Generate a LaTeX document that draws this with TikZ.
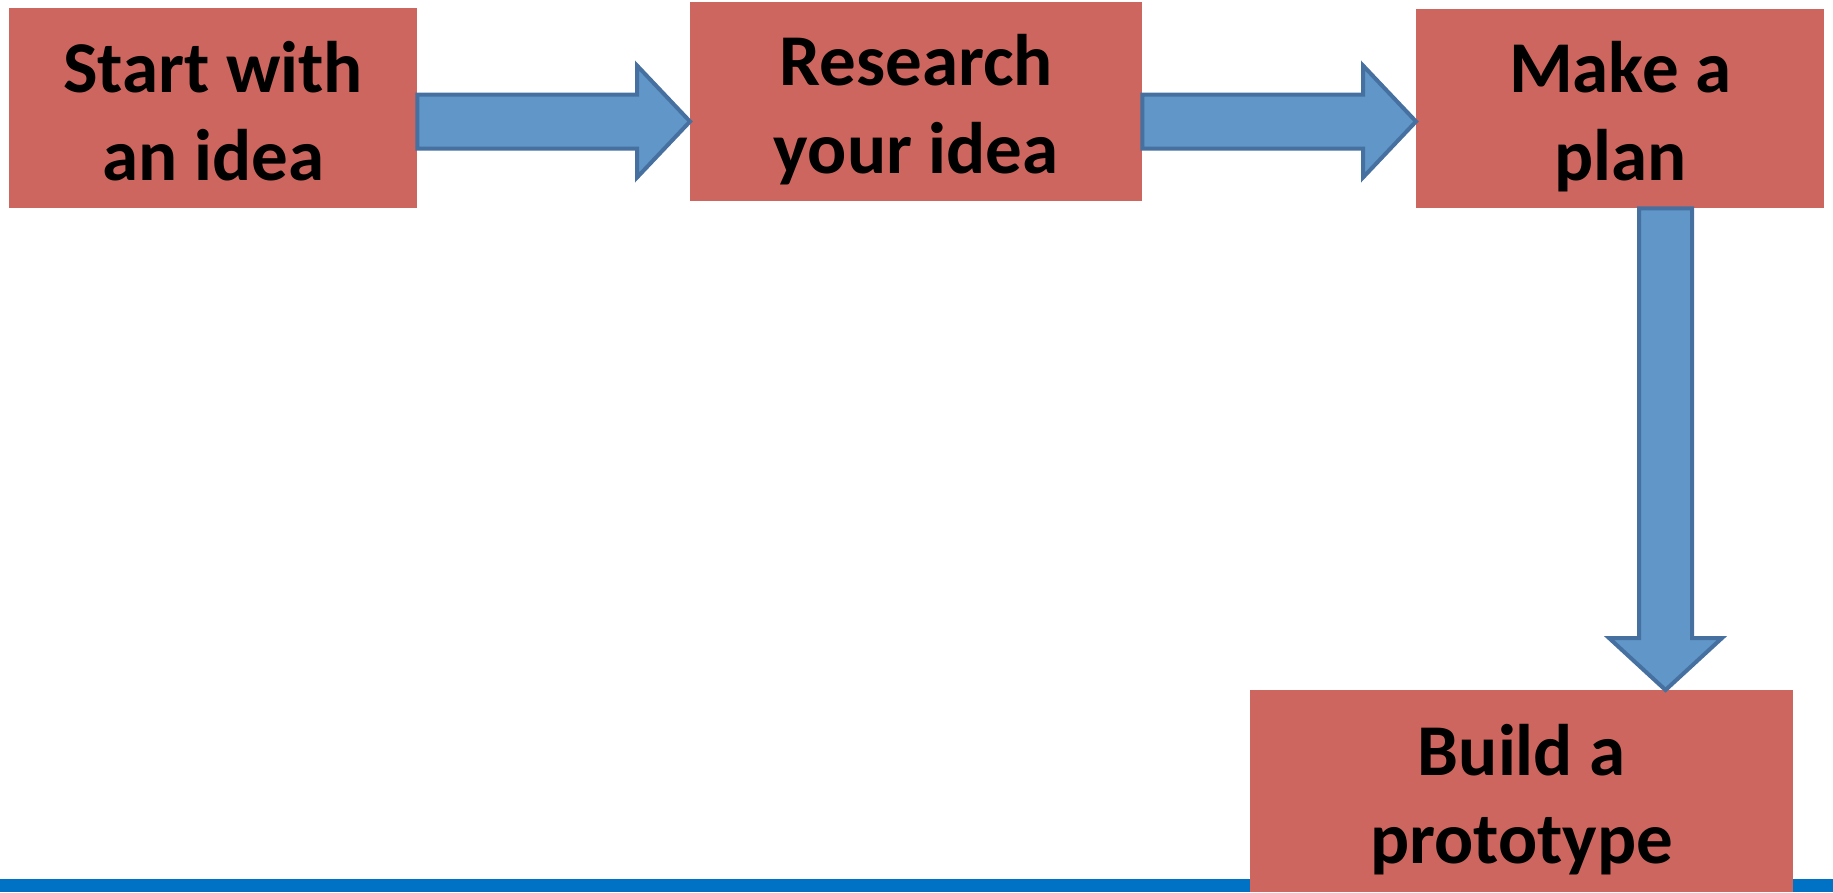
\documentclass[tikz,border=0pt]{standalone}
\usepackage{fontspec}
\setmainfont{Carlito}
\usetikzlibrary{calc}
\definecolor{boxred}{RGB}{205,102,94}
\definecolor{arrowfill}{RGB}{96,150,200}
\definecolor{arrowline}{RGB}{70,112,160}
\definecolor{barblue}{RGB}{0,114,198}
\newcommand\bstrut{\rule[-20pt]{0pt}{96pt}}
\newcommand\stepfont{\bfseries\fontsize{73}{88}\selectfont\lineskiplimit-100pt\relax}
\tikzset{
  stepbox/.style={anchor=north west, fill=boxred, draw=none, inner sep=0pt,
    align=center, font=\stepfont},
  blockarrow/.style={fill=arrowfill, draw=arrowline, line width=4pt, line join=miter}
}
\begin{document}
\begin{tikzpicture}[x=1pt,y=-1pt]
\useasboundingbox (0,0) rectangle (1833,892);
\fill[barblue] (0,879) rectangle (1833,892);
\node[stepbox, minimum width=408pt, minimum height=200pt] (b1) at (9,8) {\bstrut Start with\\\bstrut an idea};
\node[stepbox, minimum width=452pt, minimum height=199pt] (b2) at (690,2) {\bstrut Research\\\bstrut your idea};
\node[stepbox, minimum width=408pt, minimum height=199pt] (b3) at (1416,9) {\bstrut Make a\\\bstrut plan};
\coordinate (ay) at (0,121.5);
\coordinate (ax) at (1665.5,0);
% arrow 1
\draw[blockarrow] ($(b1.east |- ay)+(0,-27)$) -- ($(b2.west |- ay)+(-53,-27)$) -- ($(b2.west |- ay)+(-53,-56)$)
  -- (b2.west |- ay) -- ($(b2.west |- ay)+(-53,56)$) -- ($(b2.west |- ay)+(-53,27)$) -- ($(b1.east |- ay)+(0,27)$) -- cycle;
% arrow 2
\draw[blockarrow] ($(b2.east |- ay)+(0,-27)$) -- ($(b3.west |- ay)+(-53,-27)$) -- ($(b3.west |- ay)+(-53,-56)$)
  -- (b3.west |- ay) -- ($(b3.west |- ay)+(-53,56)$) -- ($(b3.west |- ay)+(-53,27)$) -- ($(b2.east |- ay)+(0,27)$) -- cycle;
\node[stepbox, minimum width=543pt, minimum height=202pt] (b4) at (1250,690) {\bstrut Build a\\\bstrut prototype};
% arrow 3
\draw[blockarrow] ($(ax |- b3.south)+(-26.5,0)$) -- ($(ax |- b4.north)+(-26.5,-52)$) -- ($(ax |- b4.north)+(-56.5,-52)$)
  -- (ax |- b4.north) -- ($(ax |- b4.north)+(56.5,-52)$) -- ($(ax |- b4.north)+(26.5,-52)$) -- ($(ax |- b3.south)+(26.5,0)$) -- cycle;
\end{tikzpicture}
\end{document}
